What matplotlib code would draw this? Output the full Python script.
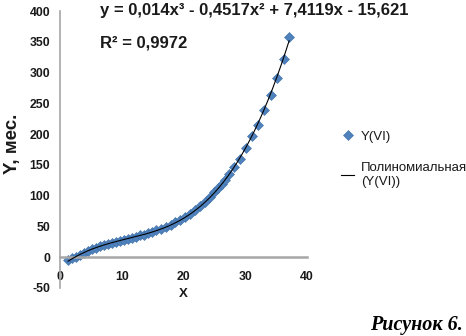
import numpy as np
import matplotlib
matplotlib.use("Agg")
import matplotlib.pyplot as plt

# values
x_vals = [1.3, 1.9, 2.6, 3.2, 3.9, 4.5, 5.2, 5.8, 6.5, 7.1, 7.8, 8.4, 9.1, 9.7,
          10.4, 11.0, 11.7, 12.3, 13.0, 13.6, 14.3, 14.9, 15.6, 16.3, 17.1,
          17.9, 18.7, 19.5, 20.3, 21.1, 21.9, 22.7, 23.5, 24.3, 25.0, 25.6,
          26.2, 26.8, 27.4, 28.2, 29.1, 30.1, 31.1, 32.1, 33.1, 34.1, 35.1,
          36.2, 37.1]
y_vals = [-4, -2, 1, 4, 7, 9.5, 13, 15, 17.5, 19.5, 21.5, 23, 25.5, 26,
          28.5, 29.5, 31.5, 33, 35.5, 36.5, 39, 41, 43.5, 46, 49.5,
          53, 57, 61, 65, 71, 77, 83, 90, 98, 106, 112,
          119, 126, 135, 146, 160, 178, 197, 215, 240, 263, 292,
          322, 358]

x_ticks = [0, 10, 20, 30, 40]
y_ticks = [-50, 0, 50, 100, 150, 200, 250, 300, 350, 400]

eq_text = "y = 0,014x³ - 0,4517x² + 7,4119x - 15,621"
r2_text = "R² = 0,9972"

plt.rcParams['font.family'] = ['Liberation Sans', 'DejaVu Sans']
plt.rcParams['axes.unicode_minus'] = False

fig = plt.figure(figsize=(4.66, 3.36), dpi=100)
ax = fig.add_axes([0.1288, 0.143, 0.530, 0.824])

# polynomial trend (3rd order) fitted to the points
coef = np.polyfit(x_vals, y_vals, 3)
xs = np.linspace(min(x_vals), max(x_vals), 200)
ax.plot(xs, np.polyval(coef, xs), color='black', lw=0.8, zorder=3,
        label="Полиномиальная\n(Y(VI))")
ax.plot(x_vals, y_vals, linestyle='none', marker='D', ms=4.8,
        color='#4F81BD', markeredgecolor='#3d6fa8', markeredgewidth=0.4,
        zorder=2, label="Y(VI)")

ax.set_xlim(0, 40)
ax.set_ylim(-50, 400)
ax.set_xticks(x_ticks)
ax.set_yticks(y_ticks)

for s in ['top', 'right']:
    ax.spines[s].set_visible(False)
ax.spines['left'].set_position(('data', 0))
ax.spines['bottom'].set_position(('data', 0))
ax.spines['left'].set_color('#a6a6a6')
ax.spines['bottom'].set_color('#a6a6a6')
ax.spines['left'].set_linewidth(1.2)
ax.spines['bottom'].set_linewidth(1.8)
ax.tick_params(axis='both', length=0, labelsize=8.8, colors='#1a1a1a')
ax.tick_params(axis='x', pad=10)
ax.tick_params(axis='y', pad=7)
for lab in ax.get_xticklabels() + ax.get_yticklabels():
    lab.set_fontweight('bold')

fig.text(183 / 466, 1 - 294 / 336, "X", ha='center', va='center',
         fontsize=9.5, fontweight='bold', color='#1a1a1a')
fig.text(12 / 466, 1 - 144 / 336, "Y, мес.", ha='center', va='center',
         rotation=90, fontsize=13.5, fontweight='bold', color='#1a1a1a')

fig.text(100 / 466, 1 - 11 / 336, eq_text, ha='left', va='center',
         fontsize=12, fontweight='bold', color='#1a1a1a')
fig.text(100 / 466, 1 - 43 / 336, r2_text, ha='left', va='center',
         fontsize=12, fontweight='bold', color='#1a1a1a')

h, l = ax.get_legend_handles_labels()
fig.legend([h[1], h[0]], [l[1], l[0]], loc='upper left',
           bbox_to_anchor=(336 / 466, 1 - 125 / 336), frameon=False,
           fontsize=9.5, handlelength=1.0, handletextpad=0.5,
           labelspacing=1.5, labelcolor='#1a1a1a', borderaxespad=0)

fig.text(463 / 466, 1 - 325 / 336, "Рисунок 6.", ha='right', va='center',
         fontsize=14.5, fontweight='bold', style='italic',
         family='Liberation Serif')

fig.savefig("out.png", dpi=100)
